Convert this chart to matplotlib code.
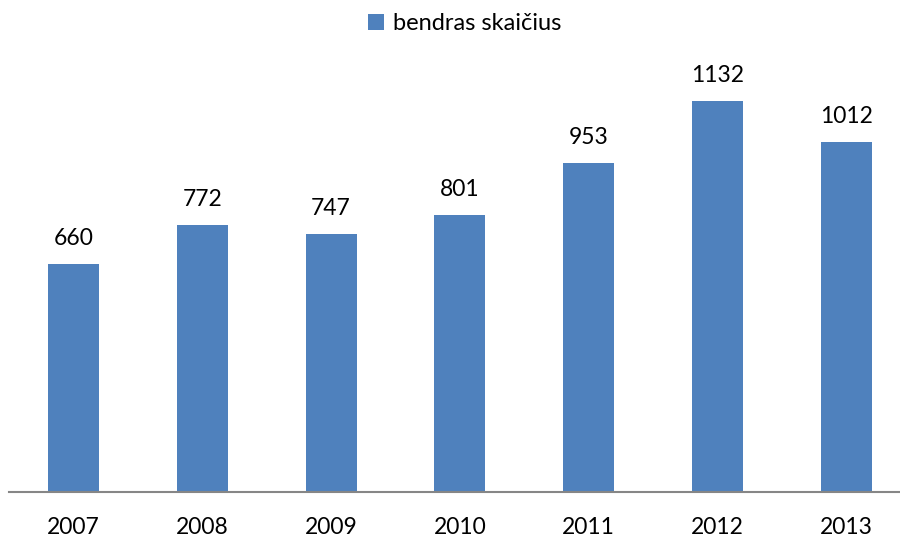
import matplotlib.pyplot as plt
import numpy as np

plt.rcParams['font.family'] = ['Lato', 'DejaVu Sans']

years = ['2007', '2008', '2009', '2010', '2011', '2012', '2013']
counts = [660, 772, 747, 801, 953, 1132, 1012]
series_name = 'bendras skaičius'

fig = plt.figure(figsize=(9, 5.4), dpi=100)
# axes stretch a bit past the right edge, like the original export
ax = fig.add_axes([9.1 / 900, 48 / 540, 901.6 / 900, 414.5 / 540])

x = np.arange(len(years))
bars = ax.bar(x, counts, width=0.396, color='#4F81BD', label=series_name)

for xi, v in zip(x, counts):
    ax.annotate(str(v), (xi, v), xytext=(0, 13.7), textcoords='offset points',
                ha='center', va='baseline', fontsize=16.5, color='black')

ax.set_xlim(-0.5, len(years) - 0.5)
ax.set_ylim(0, 1200)
ax.set_xticks(x)
ax.set_xticklabels(years, fontsize=16.5)
ax.tick_params(axis='x', length=0, pad=18)
ax.set_yticks([])

for s in ['top', 'right', 'left']:
    ax.spines[s].set_visible(False)
ax.spines['bottom'].set_color('#868686')
ax.spines['bottom'].set_linewidth(1.5)

fig.legend(handles=[bars], labels=[series_name], loc='center',
           bbox_to_anchor=(465 / 900, 1 - 24 / 540), frameon=False,
           fontsize=17, handlelength=0.65, handleheight=0.65, handletextpad=0.4)

fig.savefig('out.png', dpi=100)
